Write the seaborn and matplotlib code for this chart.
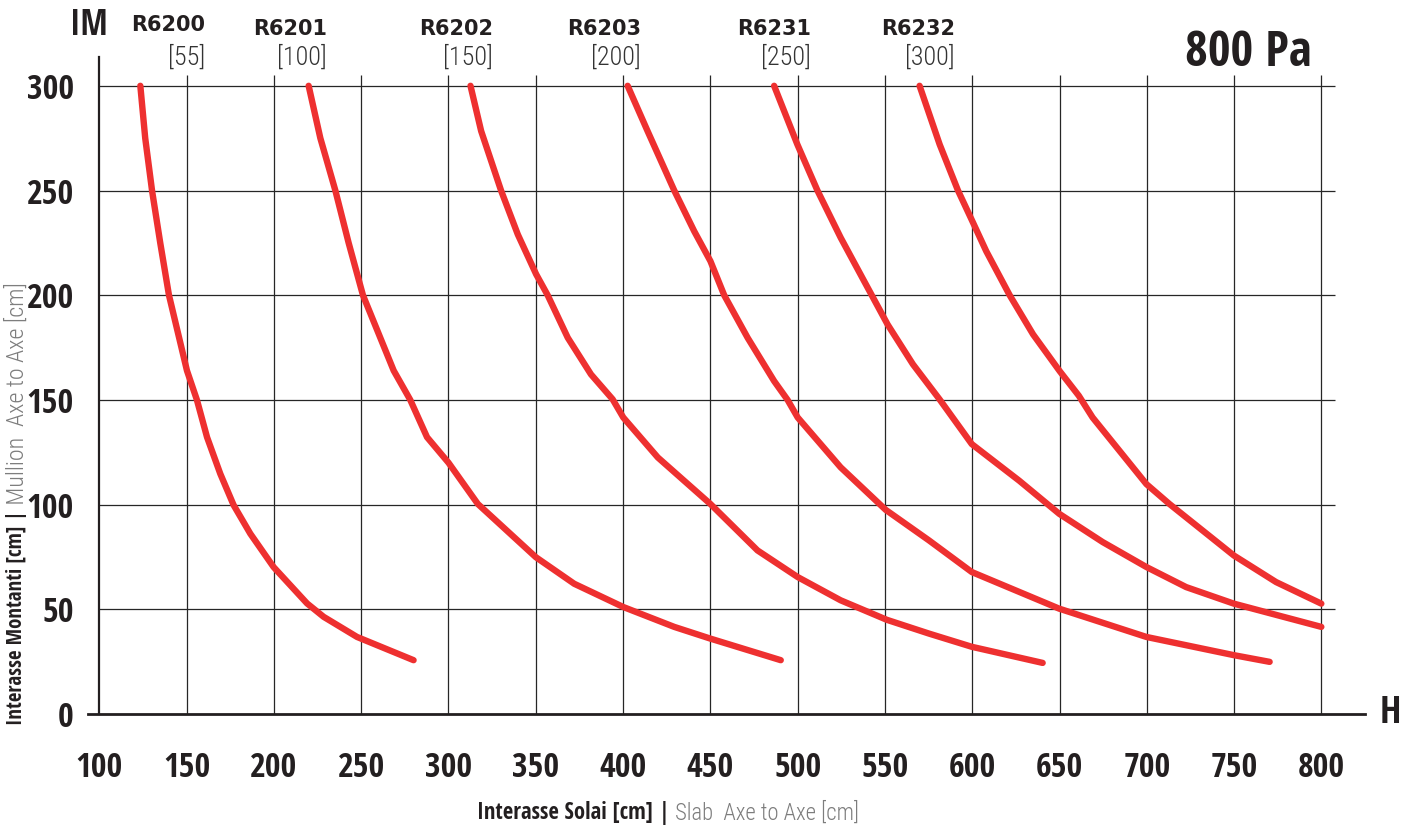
import os
import matplotlib
matplotlib.use("Agg")
import matplotlib.pyplot as plt
import seaborn as sns
import pandas as pd
from matplotlib import font_manager as fm
from matplotlib.textpath import TextPath

# ---------------- data ----------------
profiles = ["R6200", "R6201", "R6202", "R6203", "R6231", "R6232"]
inertia = ["[55]", "[100]", "[150]", "[200]", "[250]", "[300]"]

r6200_x = [123.5, 126.3, 130.2, 134.9, 139.9, 150.2, 155.9, 161.7, 169.3, 176.9, 186.5, 199.8, 219.0, 228.5, 247.6, 280.0]
r6200_y = [300, 275, 250, 225, 200, 164, 150, 132.2, 114.7, 99.8, 86.1, 70.2, 52.8, 46.4, 36.8, 25.7]

r6201_x = [219.9, 226.6, 235.2, 242.8, 251.0, 268.6, 278.1, 287.7, 300.0, 316.8, 350.0, 372.0, 400.1, 429.3, 450.0, 490.3]
r6201_y = [300, 275, 250, 225, 200, 164, 150, 132.2, 120, 100.3, 74.9, 62.2, 51.1, 41.6, 36.0, 25.7]

r6202_x = [312.6, 318.7, 330.1, 339.7, 350.2, 356.8, 368.3, 381.6, 394.0, 400.1, 419.9, 450.0, 477.0, 500.0, 524.6, 551.0, 575.2, 599.7, 640.3]
r6202_y = [300, 278.4, 250, 229, 210, 200, 179.7, 162.2, 150.3, 141.6, 122.5, 100.3, 78.1, 65.4, 54.3, 45.0, 38.4, 32.1, 24.4]

r6203_x = [402.6, 414.0, 429.3, 440.7, 450.0, 457.9, 471.3, 486.5, 494.2, 500.0, 524.6, 550.4, 575.2, 599.7, 649.8, 699.7, 749.8, 770.3]
r6203_y = [300, 278.4, 250, 230.6, 216.3, 200, 179.7, 159, 150, 141.6, 117.8, 97.5, 82.9, 67.8, 50.3, 36.8, 28.1, 24.9]

r6231_x = [486.5, 499.8, 511.3, 524.6, 538.0, 551.5, 566.0, 581.3, 599.7, 626.9, 649.8, 674.7, 699.7, 722.5, 749.8, 799.9]
r6231_y = [300, 272, 250, 227.5, 206.8, 186, 167, 150.2, 128.9, 111.4, 95.6, 82.1, 70.2, 60.6, 52.7, 41.6]

r6232_x = [569.8, 581.3, 591.8, 600.0, 608.0, 621.4, 634.8, 650.0, 661.0, 668.9, 699.7, 712.9, 749.8, 774.0, 799.9]
r6232_y = [300, 272, 250, 235.4, 221, 200, 181.3, 163.8, 152, 141.6, 109.8, 100.3, 75.7, 63.0, 52.7]

x_major = [100, 150, 200, 250, 300, 350, 400, 450, 500, 550, 600, 650, 700, 750, 800]
x_minor = [125, 175, 225, 275, 325, 375, 425, 475, 525, 575, 625, 675, 725, 775]
y_major = [0, 50, 100, 150, 200, 250, 300]
y_minor = [25, 75, 125, 175, 225, 275]

pressure = "800 Pa"
xlabel_bold = "Interasse Solai [cm] |"
xlabel_grey = " Slab  Axe to Axe [cm]"
ylabel_bold = "Interasse Montanti [cm] |"
ylabel_grey = " Mullion  Axe to Axe [cm]"

series_x = [r6200_x, r6201_x, r6202_x, r6203_x, r6231_x, r6232_x]
series_y = [r6200_y, r6201_y, r6202_y, r6203_y, r6231_y, r6232_y]
rows = []
for name, xs, ys in zip(profiles, series_x, series_y):
    for i, (xv, yv) in enumerate(zip(xs, ys)):
        rows.append({"profile": name, "H": xv, "IM": yv, "order": i})
df = pd.DataFrame(rows)

# ---------------- fonts ----------------
sns.set_style("white")


def weight_num(w):
    if isinstance(w, (int, float)):
        return int(w)
    return int(fm.weight_dict.get(str(w).lower(), 400))


def ink(prop, s):
    e = TextPath((0, 0), s, size=100, prop=prop).get_extents()
    return e.width, e.height


ALLOWED = ("dejavu sans", "liberation sans", "noto sans", "roboto", "open sans", "lato", "inter")
BAD = ("mono", "serif", "cjk", "math", "emoji", "symbol", "italic", "oblique", "arabic",
       "hebrew", "thai", "devanagari", "armenian", "georgian", "ethiopic", "display")

entries = []
for f in fm.fontManager.ttflist:
    nm = f.name.lower()
    key = nm + " " + os.path.basename(f.fname).lower()
    if not nm.startswith(ALLOWED):
        continue
    if any(k in key for k in BAD):
        continue
    if f.style != "normal":
        continue
    entries.append(f)


def pick(wmin, wmax, sample, ratio, wpref):
    best, best_score = None, 1e9
    for f in entries:
        w = weight_num(f.weight)
        if not (wmin <= w <= wmax):
            continue
        try:
            pw, ph = ink(fm.FontProperties(fname=f.fname), sample)
        except Exception:
            continue
        if ph <= 0:
            continue
        score = abs(pw / ph - ratio) + 0.0002 * abs(w - wpref)
        if score < best_score:
            best, best_score = f, score
    return best


fb = pick(600, 800, "300", 42 / 26.5, 700)
fr = pick(250, 500, "55", 25 / 21.0, 350)
BOLD = fm.FontProperties(fname=fb.fname) if fb else fm.FontProperties(family="DejaVu Sans", weight="bold", stretch="condensed")
REG = fm.FontProperties(fname=fr.fname) if fr else fm.FontProperties(family="DejaVu Sans", stretch="condensed")
HEAVY = fm.FontProperties(family="DejaVu Sans", weight="bold")


def size_for(prop, s, w_px=None, h_px=None):
    w, h = ink(prop, s)
    sizes = []
    if w_px:
        sizes.append(w_px * 72.0 / w)
    if h_px:
        sizes.append(h_px * 72.0 / h)
    out = 1.0
    for v in sizes:
        out *= v
    return out ** (1.0 / len(sizes))


def P(base, size):
    p = base.copy()
    p.set_size(size)
    return p


# ---------------- figure ----------------
W, Hh = 1413, 826
fig = plt.figure(figsize=(W / 100, Hh / 100), dpi=100)
fig.patch.set_facecolor("white")

ax_left, ax_right, ax_top, ax_bottom = 88, 1365, 57, 714
ax = fig.add_axes([ax_left / W, 1 - ax_bottom / Hh, (ax_right - ax_left) / W, (ax_bottom - ax_top) / Hh])
sx, sy = 1.746, 2.094
ax.set_xlim(100 - (99.3 - ax_left) / sx, 100 + (ax_right - 99.3) / sx)
ax.set_ylim(0, (ax_bottom - ax_top) / sy)

RED = "#ee3030"
INK = "#231f20"
GREY = "#7d7d7d"

ax.hlines(y_major[1:], 100, 808, colors="#262626", linewidth=0.9, zorder=1)
ax.vlines(x_major[1:], 0, 305, colors="#262626", linewidth=0.9, zorder=1)

sns.lineplot(data=df, x="H", y="IM", hue="profile", units="profile", estimator=None,
             sort=False, palette=[RED] * len(profiles), legend=False, linewidth=4.6,
             ax=ax, zorder=3, solid_capstyle="round")

for s in ["top", "right"]:
    ax.spines[s].set_visible(False)
ax.spines["left"].set_position(("data", 100))
ax.spines["left"].set_linewidth(1.6)
ax.spines["left"].set_color(INK)
ax.spines["bottom"].set_linewidth(2.0)
ax.spines["bottom"].set_color(INK)
ax.spines["left"].set_zorder(4)
ax.spines["bottom"].set_zorder(4)

ax.set_xticks(x_major)
ax.set_xticks(x_minor, minor=True)
ax.set_yticks(y_major)
ax.set_yticks(y_minor, minor=True)
ax.set_xticklabels([str(v) for v in x_major])
ax.set_yticklabels([str(v) for v in y_major])

tick_size = size_for(BOLD, "300", 42, 26.5)
ax.tick_params(axis="x", which="major", direction="inout", length=21.6, width=4.2,
               color=INK, pad=16, labelcolor=INK)
ax.tick_params(axis="y", which="major", direction="inout", length=20.5, width=4.0,
               color=INK, pad=8, labelcolor=INK)
ax.tick_params(axis="both", which="minor", direction="inout", length=10.8, width=1.6, color=INK)
for lab in ax.get_xticklabels() + ax.get_yticklabels():
    lab.set_fontproperties(P(BOLD, tick_size))
ax.set_xlabel("")
ax.set_ylabel("")


def fx(px):
    return px / W


def fy(py):
    return 1 - py / Hh


fig.text(fx(89), fy(26), "IM", ha="center", va="center", color=INK,
         fontproperties=P(BOLD, size_for(BOLD, "IM", 31, 26)))
fig.text(fx(1390), fy(713), "H", ha="center", va="center", color=INK,
         fontproperties=P(BOLD, size_for(BOLD, "H", None, 27)))
fig.text(fx(1312), fy(54), pressure, ha="right", va="center", color=INK,
         fontproperties=P(BOLD, size_for(BOLD, pressure, 134, 33)))

label_right_px = [205, 327, 493, 641, 811, 955]
name_center_px = [25, 29, 29, 29, 29, 29]
name_size = size_for(HEAVY, "R6200", 70, 16)
br_size = size_for(REG, "[55]", 38, 22)
for name, inert, rpx, cy in zip(profiles, inertia, label_right_px, name_center_px):
    fig.text(fx(rpx), fy(cy), name, ha="right", va="center", color=INK,
             fontproperties=P(HEAVY, name_size))
    fig.text(fx(rpx), fy(57), inert, ha="right", va="center", color="#333333",
             fontproperties=P(REG, br_size))

# two-tone axis titles
t_size = 14.0
tx1 = fig.text(fx(477), fy(819), xlabel_bold, ha="left", va="baseline", color=INK,
               fontproperties=P(BOLD, t_size))
tx2 = ax.annotate(xlabel_grey, xy=(1, 0), xycoords=tx1, ha="left", va="bottom", color=GREY,
                  fontproperties=P(REG, t_size), annotation_clip=False)
ty1 = fig.text(fx(17), fy(725), ylabel_bold, ha="center", va="bottom", rotation=90, color=INK,
               fontproperties=P(BOLD, t_size))
ty2 = ax.annotate(ylabel_grey, xy=(0.5, 1), xycoords=ty1, ha="center", va="bottom", rotation=90,
                  color=GREY, fontproperties=P(REG, t_size * 1.15), annotation_clip=False)

for _ in range(4):
    fig.canvas.draw()
    r = fig.canvas.get_renderer()
    b1, b2 = tx1.get_window_extent(r), tx2.get_window_extent(r)
    k = 380.0 / (b2.x1 - b1.x0)
    for t in (tx1, tx2):
        t.set_fontsize(t.get_fontsize() * k)
    c1, c2 = ty1.get_window_extent(r), ty2.get_window_extent(r)
    k = 442.0 / (c2.y1 - c1.y0)
    for t in (ty1, ty2):
        t.set_fontsize(t.get_fontsize() * k)

fig.savefig("out.png", dpi=100, facecolor="white")
